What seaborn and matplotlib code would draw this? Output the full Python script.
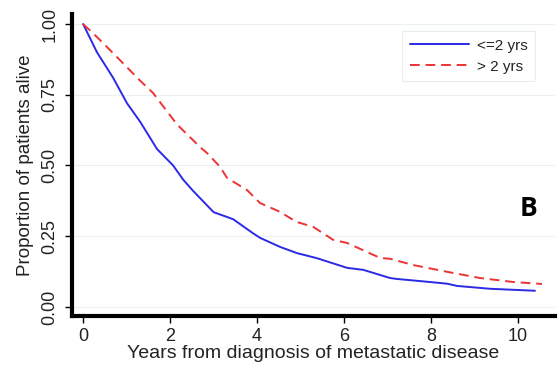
import seaborn as sns
from matplotlib import pyplot as plt
import pandas as pd

# Kaplan-Meier style curves
years_short = [0, 0.32, 0.69, 1.01, 1.31, 1.70, 2.07, 2.30, 2.53, 3.00, 3.45,
               3.91, 4.07, 4.53, 4.92, 5.38, 6.07, 6.44, 7.06, 7.20, 7.97,
               8.37, 8.60, 9.36, 10.39]
alive_short = [1.0, 0.90, 0.81, 0.72, 0.655, 0.558, 0.50, 0.45, 0.41, 0.335,
               0.31, 0.26, 0.244, 0.212, 0.19, 0.172, 0.138, 0.131, 0.102,
               0.099, 0.088, 0.082, 0.074, 0.064, 0.057]
years_long = [0, 0.32, 0.69, 1.31, 1.61, 2.16, 2.69, 2.85, 3.15, 3.31, 3.77,
              4.07, 4.53, 4.76, 4.92, 5.29, 5.75, 6.07, 6.83, 7.06, 7.59,
              8.37, 9.13, 9.89, 10.55]
alive_long = [1.0, 0.954, 0.897, 0.80, 0.756, 0.645, 0.565, 0.544, 0.495,
              0.456, 0.413, 0.367, 0.336, 0.314, 0.30, 0.283, 0.237, 0.226,
              0.173, 0.170, 0.148, 0.124, 0.102, 0.088, 0.081]
groups = ['<=2 yrs', '> 2 yrs']
y_ticks = [0.0, 0.25, 0.5, 0.75, 1.0]
x_ticks = [0, 2, 4, 6, 8, 10]

df = pd.concat([
    pd.DataFrame({'years': years_short, 'alive': alive_short, 'group': groups[0]}),
    pd.DataFrame({'years': years_long, 'alive': alive_long, 'group': groups[1]}),
])

sns.set_style('white')
plt.rcParams['font.family'] = ['Liberation Sans', 'DejaVu Sans']
text_col = '#222222'

fig = plt.figure(figsize=(5.6, 3.73), dpi=100)
ax = fig.add_axes([0.129, 0.153, 0.862, 0.809])

for y in y_ticks:
    ax.axhline(y, color='#eaf0f4', lw=0.8, zorder=0)

sns.lineplot(data=df, x='years', y='alive', hue='group', style='group',
             palette={groups[0]: '#2a2ae6', groups[1]: '#ee3333'},
             dashes={groups[0]: '', groups[1]: (5, 3)},
             estimator=None, sort=True, lw=1.4, ax=ax)

ax.set_xlim(-0.25, 10.85)
ax.set_ylim(-0.032, 1.035)
ax.set_xticks(x_ticks)
ax.set_yticks(y_ticks)
ax.set_yticklabels(['%.2f' % v for v in y_ticks], rotation=90, va='center')
ax.tick_params(axis='both', direction='out', length=5, width=1, color='black',
               labelsize=13, labelcolor=text_col, bottom=True, left=True)
ax.tick_params(axis='y', pad=5)
ax.tick_params(axis='x', pad=4)

sns.despine(ax=ax)
for s in ['left', 'bottom']:
    ax.spines[s].set_linewidth(3)
    ax.spines[s].set_color('black')

ax.set_xlabel('Years from diagnosis of metastatic disease', fontsize=14,
              color=text_col, labelpad=0)
ax.set_ylabel('Proportion of patients alive', fontsize=13.5, color=text_col,
              labelpad=5)

leg = ax.legend(title=None, loc='upper right', bbox_to_anchor=(0.959, 0.944),
                borderaxespad=0, fontsize=11, frameon=True, fancybox=False,
                handlelength=3.9, handletextpad=0.5, borderpad=0.5,
                labelspacing=0.45)
leg.get_frame().set_edgecolor('#e4e8ea')
leg.get_frame().set_linewidth(0.8)
for t in leg.get_texts():
    t.set_color(text_col)

ax.text(529, 165, 'B', transform=None, fontsize=19, fontweight='bold',
        color='black', ha='center', va='center',
        family=['Open Sans', 'DejaVu Sans'])

fig.savefig('out.png', dpi=100)
